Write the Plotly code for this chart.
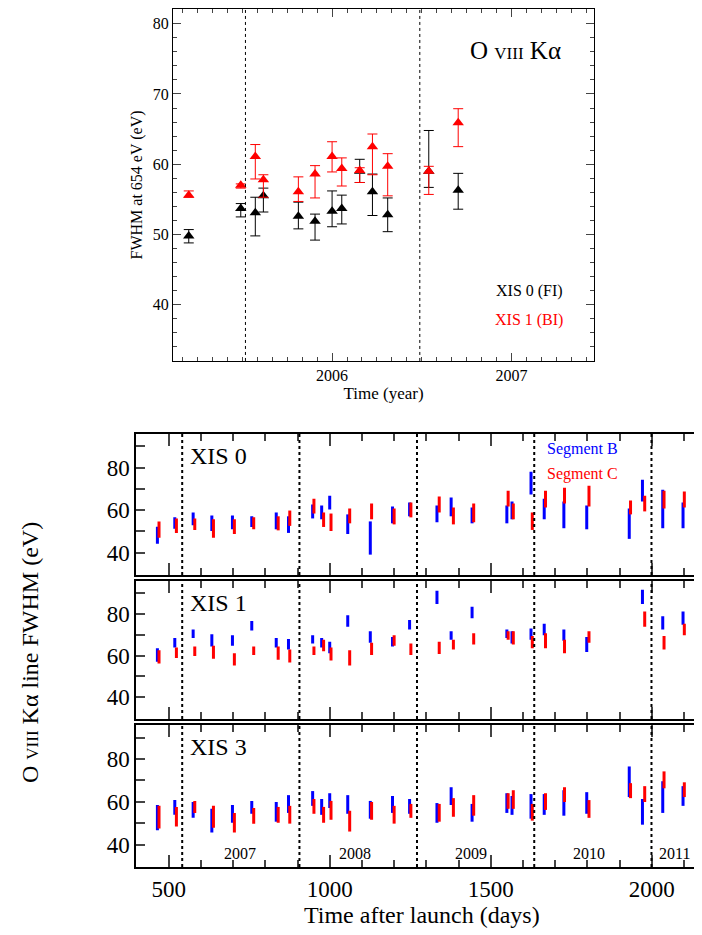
import plotly.graph_objects as go

# ---------- top panel data ----------
top_t = [2005.201, 2005.491, 2005.572, 2005.617, 2005.812, 2005.905, 2006.0, 2006.054, 2006.154, 2006.225, 2006.310, 2006.539, 2006.703]
xis0_v = [49.8, 53.7, 53.1, 55.5, 52.6, 51.9, 53.3, 53.7, 59.0, 56.1, 52.8, 59.0, 56.3]
xis0_hi = [50.7, 54.4, 55.3, 56.6, 54.6, 52.9, 56.2, 55.6, 60.7, 58.6, 55.2, 64.8, 58.7]
xis0_lo = [48.8, 52.5, 49.8, 53.2, 50.8, 49.2, 51.1, 51.5, 57.4, 52.7, 50.4, 56.7, 53.6]
xis1_v = [55.6, 57.0, 61.1, 57.8, 56.1, 58.6, 61.1, 59.4, 59.1, 62.5, 59.7, 59.0, 65.9]
xis1_hi = [56.2, 57.2, 62.8, 58.5, 58.2, 59.8, 63.2, 60.9, 59.5, 64.3, 61.5, 59.7, 67.9]
xis1_lo = [55.3, 56.6, 57.9, 55.3, 54.7, 55.2, 58.9, 56.9, 57.4, 58.5, 55.5, 55.7, 62.5]
top_sep = [2005.517, 2006.489]

# ---------- bottom panels data ----------
days_b = [465, 519, 576, 634, 698, 758, 834, 872, 947, 975, 1000, 1056, 1126, 1195,
          1248, 1333, 1377, 1442, 1550, 1566, 1625, 1666, 1727, 1798, 1930, 1971, 2034, 2097]
days_c = [470, 524, 581, 639, 704, 764, 840, 876, 951, 981, 1004, 1062, 1130, 1200,
          1252, 1340, 1384, 1447, 1554, 1570, 1629, 1670, 1729, 1805, 1934, 1978, 2038, 2101]
x0_b_lo = [44.2, 51.2, 52.9, 50.2, 51.0, 52.1, 51.0, 49.3, 56.1, 55.7, 60.3, 48.8, 39.1, 53.8,
           57.1, 54.3, 57.1, 53.8, 53.8, 55.7, 67.3, 55.7, 51.5, 51.0, 46.5, 64.0, 51.5, 51.5]
x0_b_hi = [52.2, 56.6, 58.9, 57.5, 57.5, 57.1, 58.9, 57.1, 62.6, 62.2, 66.8, 58.0, 54.7, 61.7,
           63.6, 62.2, 65.9, 61.2, 62.2, 64.0, 78.0, 65.4, 64.0, 62.2, 60.8, 74.3, 69.6, 63.6]
x0_c_lo = [47.0, 49.3, 50.7, 47.0, 48.8, 51.0, 50.5, 52.6, 58.4, 52.1, 50.2, 53.8, 55.7, 53.3,
           56.6, 58.9, 53.3, 54.3, 61.7, 55.7, 50.7, 61.2, 63.1, 61.7, 58.0, 59.4, 60.8, 61.2]
x0_c_hi = [54.7, 56.1, 56.1, 55.7, 55.7, 56.6, 57.1, 59.8, 65.4, 58.9, 58.4, 60.8, 63.1, 60.8,
           63.6, 66.4, 61.2, 63.1, 69.1, 63.1, 58.9, 69.1, 70.5, 71.5, 64.5, 66.8, 69.1, 68.7]
N = None
x1_b_lo = [57.1, 63.9, 68.5, 64.4, 64.8, 72.1, 63.9, 63.0, 65.8, 63.9, 61.2, 73.9, 66.2, 64.4,
           72.6, 84.8, 67.6, 78.0, 68.5, 65.8, 67.6, 69.8, 67.1, 61.7, N, 84.8, 72.6, 74.8]
x1_b_hi = [63.5, 68.5, 72.6, 70.3, 69.8, 76.7, 68.5, 68.0, 69.8, 68.5, 66.7, 79.4, 71.7, 68.9,
           77.1, 91.2, 71.7, 83.5, 72.6, 71.7, 73.0, 75.3, 72.6, 68.9, N, 91.7, 78.9, 81.2]
x1_c_lo = [56.2, 58.9, 59.8, 58.5, 55.3, 60.3, 58.0, 56.7, 60.3, 62.1, 57.6, 55.3, 60.3, 64.8,
           60.3, 60.8, 63.0, 65.3, 67.6, 65.3, 63.5, 63.5, 61.2, 66.2, N, 73.9, 63.0, 69.8]
x1_c_hi = [62.6, 63.9, 64.4, 64.8, 61.2, 64.4, 64.4, 63.0, 64.4, 67.6, 63.9, 62.6, 66.2, 69.8,
           65.8, 66.7, 67.6, 70.8, 71.7, 71.7, 69.4, 70.8, 67.6, 71.7, N, 81.2, 69.4, 75.3]
x3_b_lo = [46.7, 53.9, 52.5, 45.6, 50.2, 54.4, 50.7, 54.8, 58.1, 53.9, 57.1, 54.4, 52.1, 54.8,
           54.4, 50.2, 58.5, 50.7, 54.8, 53.9, 52.1, 53.9, 53.5, 54.4, 62.2, 49.3, 54.8, 58.1]
x3_b_hi = [58.5, 60.8, 59.9, 56.7, 58.5, 60.4, 59.9, 63.1, 65.0, 61.3, 64.0, 63.1, 60.4, 62.7,
           61.3, 59.4, 66.8, 59.0, 64.0, 62.7, 63.6, 63.6, 65.4, 64.5, 76.5, 61.3, 69.6, 67.3]
x3_c_lo = [47.5, 48.4, 54.8, 47.9, 45.6, 49.8, 50.2, 49.8, 54.4, 50.2, 51.6, 46.1, 51.6, 49.8,
           52.5, 50.7, 53.0, 53.5, 56.7, 56.7, 51.2, 56.2, 59.9, 52.5, 61.7, 59.9, 66.3, 62.2]
x3_c_hi = [58.1, 57.6, 60.4, 58.1, 54.8, 57.1, 57.6, 58.1, 61.3, 57.6, 60.4, 55.8, 59.9, 58.1,
           59.0, 59.0, 61.7, 63.1, 64.0, 65.4, 59.0, 64.0, 66.8, 60.8, 68.7, 67.3, 74.2, 69.1]
year_sep = [542, 906, 1271, 1635, 1999]
year_lbl = ["2007", "2008", "2009", "2010", "2011"]
year_pos = [720, 1080, 1440, 1805, 2070]

FONT = "Liberation Serif"
BLUE, RED = "#0000ff", "#ff0000"
fig = go.Figure()

def pts(lo, hi):
    mid = [None if a is None else (a + b) / 2 for a, b in zip(lo, hi)]
    err = [None if a is None else (b - a) / 2 for a, b in zip(lo, hi)]
    return mid, err

for v, lo, hi, col in [(xis0_v, xis0_lo, xis0_hi, "black"), (xis1_v, xis1_lo, xis1_hi, RED)]:
    fig.add_trace(go.Scatter(
        x=top_t, y=v, mode="markers", xaxis="x", yaxis="y",
        marker=dict(symbol="triangle-up", size=10, color=col),
        error_y=dict(type="data", symmetric=False,
                     array=[h - a for h, a in zip(hi, v)],
                     arrayminus=[a - l for a, l in zip(v, lo)],
                     color=col, thickness=1, width=5),
        showlegend=False))

panels = [("2", x0_b_lo, x0_b_hi, x0_c_lo, x0_c_hi),
          ("3", x1_b_lo, x1_b_hi, x1_c_lo, x1_c_hi),
          ("4", x3_b_lo, x3_b_hi, x3_c_lo, x3_c_hi)]
for ax, blo, bhi, clo, chi in panels:
    for dd, lo, hi, col in [(days_b, blo, bhi, BLUE), (days_c, clo, chi, RED)]:
        mid, err = pts(lo, hi)
        fig.add_trace(go.Scatter(
            x=dd, y=mid, mode="markers", xaxis="x" + ax, yaxis="y" + ax,
            marker=dict(size=1, color=col, opacity=0),
            error_y=dict(type="data", array=err, color=col, thickness=3, width=0),
            showlegend=False))

common = dict(showline=True, linecolor="black", linewidth=1, mirror="allticks",
              ticks="inside", showgrid=False, zeroline=False, automargin=False,
              tickfont=dict(family=FONT, size=16, color="black"))
lay = dict(
    width=702, height=935, margin=dict(l=0, r=0, t=0, b=0, autoexpand=False),
    paper_bgcolor="white", plot_bgcolor="white", showlegend=False,
    font=dict(family=FONT, color="black"),
    xaxis=dict(**common, domain=[0.235, 0.835], range=[2005.113, 2007.461],
               tickvals=[2006, 2007], ticklen=8,
               minor=dict(dtick=1/12, tick0=2005, ticks="inside", ticklen=4),
               title=dict(text="Time (year)", font=dict(family=FONT, size=17), standoff=2)),
    yaxis=dict(**common, domain=[0.6225, 0.999], range=[32, 82.1], dtick=10, ticklen=8,
               minor=dict(dtick=2, ticks="inside", ticklen=4),
               title=dict(text="FWHM at 654 eV (eV)", font=dict(family=FONT, size=16), standoff=6)),
)
ydoms = {"2": [0.3935, 0.5445], "3": [0.2395, 0.3870], "4": [0.0812, 0.2330]}
bcommon = dict(common, linewidth=2)
bcommon["tickfont"] = dict(family=FONT, size=23, color="black")
for ax in ["2", "3", "4"]:
    xa = dict(**bcommon, domain=[0.183, 0.996], range=[400, 2172], anchor="y" + ax,
              tickvals=[500, 1000, 1500, 2000], ticklen=12, tickwidth=2,
              showticklabels=(ax == "4"),
              minor=dict(dtick=100, tick0=0, ticks="inside", ticklen=7, tickwidth=2))
    if ax == "4":
        xa["title"] = dict(text="Time after launch (days)", font=dict(family=FONT, size=24), standoff=4)
    lay["xaxis" + ax] = xa
    lay["yaxis" + ax] = dict(**bcommon, domain=ydoms[ax], range=[29.5, 95.8], anchor="x" + ax,
                             tickvals=[40, 50, 60, 70, 80, 90],
                             ticktext=["40", "", "60", "", "80", ""],
                             ticklen=9, tickwidth=2)
fig.update_layout(**lay)

for t in top_sep:
    fig.add_shape(type="line", xref="x", yref="y domain", x0=t, x1=t, y0=0, y1=1,
                  line=dict(color="black", width=1, dash="dot"))
for ax in ["2", "3", "4"]:
    for d in year_sep:
        fig.add_shape(type="line", xref="x" + ax, yref="y" + ax + " domain", x0=d, x1=d, y0=0, y1=1,
                      line=dict(color="black", width=2, dash="dot"))

ann = []
ann.append(dict(xref="paper", yref="paper", x=555/702, y=1-42/935, xanchor="right", yanchor="middle",
                text="O <span style='font-size:17px'>VIII</span> Kα", showarrow=False,
                font=dict(family=FONT, size=25, color="black")))
ann.append(dict(xref="paper", yref="paper", x=557/702, y=1-283/935, xanchor="right", yanchor="middle",
                text="XIS 0 (FI)", showarrow=False, font=dict(family=FONT, size=16, color="black")))
ann.append(dict(xref="paper", yref="paper", x=557/702, y=1-312/935, xanchor="right", yanchor="middle",
                text="XIS 1 (BI)", showarrow=False, font=dict(family=FONT, size=16, color=RED)))
for ax, name in [("2", "XIS 0"), ("3", "XIS 1"), ("4", "XIS 3")]:
    ann.append(dict(xref="x" + ax + " domain", yref="y" + ax + " domain", x=0.09, y=0.95,
                    xanchor="left", yanchor="top", text=name, showarrow=False,
                    font=dict(family=FONT, size=24, color="black")))
ann.append(dict(xref="paper", yref="paper", x=537/702, y=1-441/935, xanchor="left", yanchor="middle",
                text="Segment B", showarrow=False, font=dict(family=FONT, size=16, color=BLUE)))
ann.append(dict(xref="paper", yref="paper", x=537/702, y=1-466/935, xanchor="left", yanchor="middle",
                text="Segment C", showarrow=False, font=dict(family=FONT, size=16, color=RED)))
for lbl, p in zip(year_lbl, year_pos):
    ann.append(dict(xref="x4", yref="y4", x=p, y=36, text=lbl, showarrow=False,
                    font=dict(family=FONT, size=16, color="black")))
ann.append(dict(xref="paper", yref="paper", x=22/702, y=1-645/935, textangle=-90,
                xanchor="center", yanchor="middle",
                text="O <span style='font-size:17px'>VIII</span> Kα line FWHM (eV)", showarrow=False,
                font=dict(family=FONT, size=24, color="black")))
fig.update_layout(annotations=ann)

fig.write_html("out.html")
